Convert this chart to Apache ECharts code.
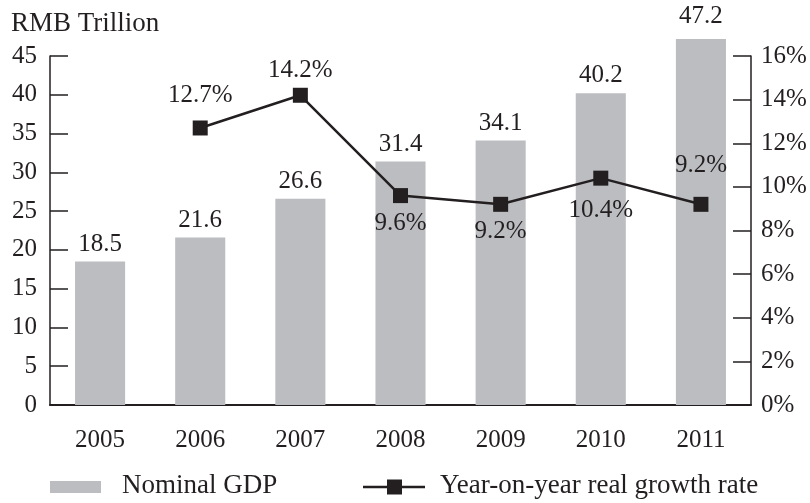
<!DOCTYPE html>
<html>
<head>
<meta charset="utf-8">
<script src="https://cdn.jsdelivr.net/npm/echarts@6/dist/echarts.min.js"></script>
<style>
  html, body { margin: 0; padding: 0; background: #fff; }
  #chart { width: 810px; height: 503px; }
</style>
</head>
<body>
<div id="chart"></div>
<script>
// Nominal GDP (RMB trillion) and year-on-year real growth rate (%)
const years = ['2005', '2006', '2007', '2008', '2009', '2010', '2011'];
const nominalGdp = [18.5, 21.6, 26.6, 31.4, 34.1, 40.2, 47.2];
const realGrowth = [null, 12.7, 14.2, 9.6, 9.2, 10.4, 9.2];
const seriesNames = ['Nominal GDP', 'Year-on-year real growth rate'];
// vertical offset of each growth label from its marker (px, negative = above)
const growthLabelOffset = [0, -33, -25, 28, 27, 32, -39];
const gdpTicks = { min: 0, max: 45, interval: 5 };
const rateTicks = { min: 0, max: 16, interval: 2 };

const ink = '#231f20';
const barGrey = '#bcbdc1';
const serif = '"Liberation Serif", "Times New Roman", serif';
const fs = 25;      // numbers
const fsText = 27;  // words

const chart = echarts.init(document.getElementById('chart'), null, { renderer: 'canvas' });

const gdpData = nominalGdp.map((v, i) => ({
  value: v,
  label: i === nominalGdp.length - 1 ? { distance: 10 } : {}
}));

const growthData = realGrowth.map((v, i) => v === null ? '-' : ({
  value: v,
  label: { offset: [0, growthLabelOffset[i]] }
}));

// key row under the plot
const keyY = 487;
const legendGraphics = [
  { type: 'rect', left: 50, top: keyY - 6, shape: { width: 51, height: 12 }, style: { fill: barGrey } },
  { type: 'text', left: 122, top: keyY - 15, style: { text: seriesNames[0], font: fsText + 'px ' + serif, fill: ink } },
  { type: 'line', shape: { x1: 363, y1: keyY, x2: 425, y2: keyY }, style: { stroke: ink, lineWidth: 2.5 } },
  { type: 'rect', left: 387, top: keyY - 7.5, shape: { width: 15, height: 15 }, style: { fill: ink } },
  { type: 'text', left: 440, top: keyY - 15, style: { text: seriesNames[1], font: fsText + 'px ' + serif, fill: ink } }
];

chart.setOption({
  animation: false,
  textStyle: { fontFamily: serif, color: ink },
  title: {
    text: 'RMB Trillion',
    left: 11,
    top: 10,
    padding: 0,
    textStyle: { fontFamily: serif, fontSize: fsText, fontWeight: 'normal', color: ink }
  },
  grid: { left: 50, right: 59, top: 56, bottom: 98, containLabel: false },
  graphic: legendGraphics,
  xAxis: {
    type: 'category',
    data: years,
    boundaryGap: true,
    axisLine: { lineStyle: { color: ink, width: 2 } },
    axisTick: { inside: true, length: 10, lineStyle: { color: ink, width: 2 } },
    axisLabel: { fontFamily: serif, fontSize: fs, color: ink, margin: 23 },
    splitLine: { show: false }
  },
  yAxis: [
    {
      type: 'value',
      min: gdpTicks.min,
      max: gdpTicks.max,
      interval: gdpTicks.interval,
      axisLine: { show: true, lineStyle: { color: ink, width: 1.5 } },
      axisTick: { show: true, inside: true, length: 18, lineStyle: { color: ink, width: 1.5 } },
      axisLabel: { fontFamily: serif, fontSize: fs, color: ink, margin: 13 },
      splitLine: { show: false }
    },
    {
      type: 'value',
      position: 'right',
      min: rateTicks.min,
      max: rateTicks.max,
      interval: rateTicks.interval,
      axisLine: { show: true, lineStyle: { color: ink, width: 1.5 } },
      axisTick: { show: true, inside: true, length: 18, lineStyle: { color: ink, width: 1.5 } },
      axisLabel: { fontFamily: serif, fontSize: fs, color: ink, margin: 10, formatter: '{value}%' },
      splitLine: { show: false }
    }
  ],
  series: [
    {
      name: seriesNames[0],
      type: 'bar',
      yAxisIndex: 0,
      data: gdpData,
      barWidth: '50%',
      clip: false,
      itemStyle: { color: barGrey },
      label: {
        show: true,
        position: 'top',
        distance: 5,
        fontFamily: serif,
        fontSize: fs,
        color: ink
      }
    },
    {
      name: seriesNames[1],
      type: 'line',
      yAxisIndex: 1,
      data: growthData,
      symbol: 'rect',
      symbolSize: 15,
      connectNulls: false,
      lineStyle: { color: ink, width: 2.5 },
      itemStyle: { color: ink },
      label: {
        show: true,
        position: 'inside',
        fontFamily: serif,
        fontSize: fs,
        color: ink,
        formatter: p => p.value + '%'
      }
    }
  ]
});
</script>
</body>
</html>
